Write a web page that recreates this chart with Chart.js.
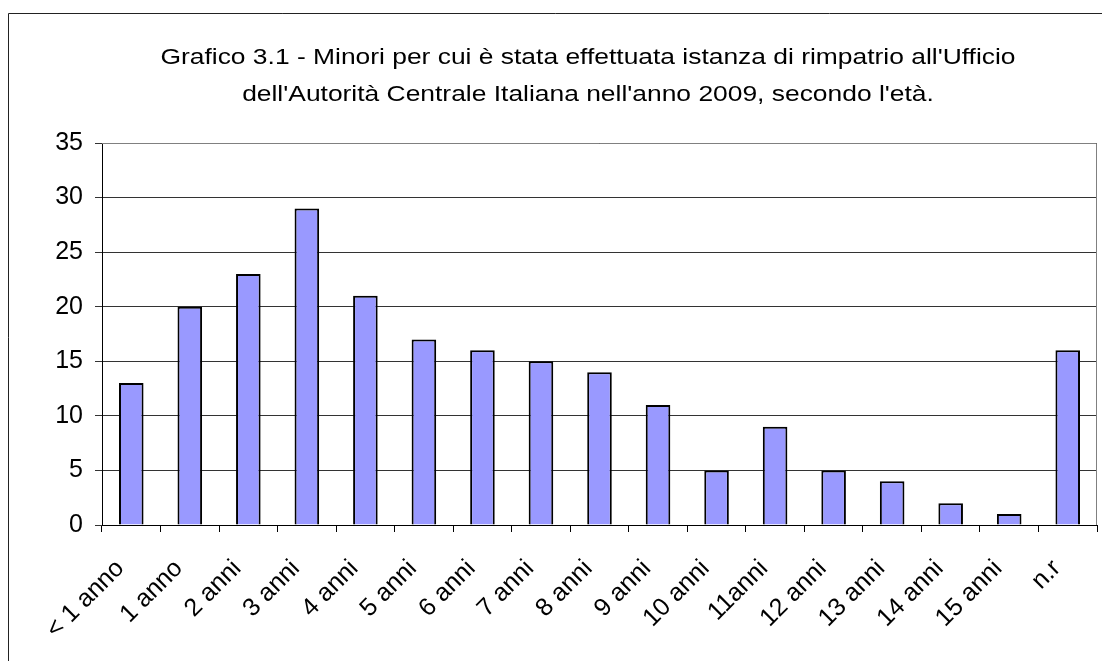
<!DOCTYPE html>
<html>
<head>
<meta charset="utf-8">
<script src="https://cdn.jsdelivr.net/npm/chart.js@4/dist/chart.umd.min.js"></script>
<style>
  html, body { margin: 0; padding: 0; background: #fff; }
  #wrap { width: 1102px; height: 661px; position: relative; }
</style>
</head>
<body>
<div id="wrap"><canvas id="barChart" width="1102" height="661"></canvas></div>
<script>
// data
var categories = ["< 1 anno", "1 anno", "2 anni", "3 anni", "4 anni", "5 anni", "6 anni", "7 anni", "8 anni", "9 anni", "10 anni", "11anni", "12 anni", "13 anni", "14 anni", "15 anni", "n.r"];
var minori = [13, 20, 23, 29, 21, 17, 16, 15, 14, 11, 5, 9, 5, 4, 2, 1, 16];
var yTicks = [0, 5, 10, 15, 20, 25, 30, 35];
var titleLines = ["Grafico 3.1 - Minori per cui è stata effettuata istanza di rimpatrio all'Ufficio",
                  "dell'Autorità Centrale Italiana nell'anno 2009, secondo l'età."];

var FONT = "'Liberation Sans', Arial, sans-serif";

// frame, title and plot border (excel look)
var excelDeco = {
  id: 'excelDeco',
  beforeDraw: function(chart) {
    var c = chart.ctx;
    c.save();
    c.fillStyle = '#fff';
    c.fillRect(0, 0, chart.width, chart.height);
    c.strokeStyle = '#222';
    c.lineWidth = 1;
    c.beginPath();
    c.moveTo(8.5, 700);
    c.lineTo(8.5, 13.5);
    c.lineTo(1200, 13.5);
    c.stroke();
    // title is a bit wider than tall in the picture
    c.fillStyle = '#000';
    c.font = '22px ' + FONT;
    c.textAlign = 'center';
    c.textBaseline = 'alphabetic';
    c.translate(588, 0);
    c.scale(1.2, 1);
    c.fillText(titleLines[0], 0, 64);
    c.fillText(titleLines[1], 0, 101);
    c.restore();
  },
  afterDatasetsDraw: function(chart) {
    var a = chart.chartArea, c = chart.ctx;
    c.save();
    c.strokeStyle = '#808080';
    c.lineWidth = 1;
    c.beginPath();
    c.moveTo(a.left, a.top + 0.5);
    c.lineTo(a.right - 0.5, a.top + 0.5);
    c.lineTo(a.right - 0.5, a.bottom);
    c.stroke();
    c.restore();
  }
};

var ctx = document.getElementById("barChart").getContext('2d');
var myBarChart = new Chart(ctx, {
  type: 'bar',
  data: {
    labels: categories,
    datasets: [{
      label: "Minori",
      data: minori,
      backgroundColor: '#9999ff',
      borderColor: '#000',
      borderWidth: 2,
      borderSkipped: 'bottom',
      categoryPercentage: 0.84,
      barPercentage: 0.5
    }]
  },
  options: {
    responsive: false,
    animation: false,
    devicePixelRatio: 1,
    layout: { padding: { top: 143, right: 5, bottom: 0, left: 0 } },
    plugins: {
      legend: { display: false },
      title: { display: false },
      tooltip: { enabled: false }
    },
    scales: {
      x: {
        offset: true,
        grid: {
          offset: true,
          drawOnChartArea: false,
          drawTicks: true,
          tickLength: 7,
          color: '#000'
        },
        border: { color: '#000', width: 1 },
        ticks: {
          color: '#000',
          font: { family: FONT, size: 25 },
          minRotation: 45,
          maxRotation: 45,
          autoSkip: false,
          padding: 22,
          labelOffset: -11
        },
        afterFit: function(s) {
          s.height = 136;
          s.paddingLeft = 0;
          s.paddingRight = 0;
        }
      },
      y: {
        min: 0,
        max: 35,
        afterBuildTicks: function(s) { s.ticks = yTicks.map(function(v) { return { value: v }; }); },
        grid: {
          color: '#333',
          tickLength: 7,
          drawTicks: true
        },
        border: { color: '#000', width: 1 },
        ticks: {
          color: '#000',
          font: { family: FONT, size: 25 },
          padding: 12
        },
        afterFit: function(s) {
          s.width = 102;
          s.paddingTop = 0;
          s.paddingBottom = 0;
        }
      }
    }
  },
  plugins: [excelDeco]
});
</script>
</body>
</html>
